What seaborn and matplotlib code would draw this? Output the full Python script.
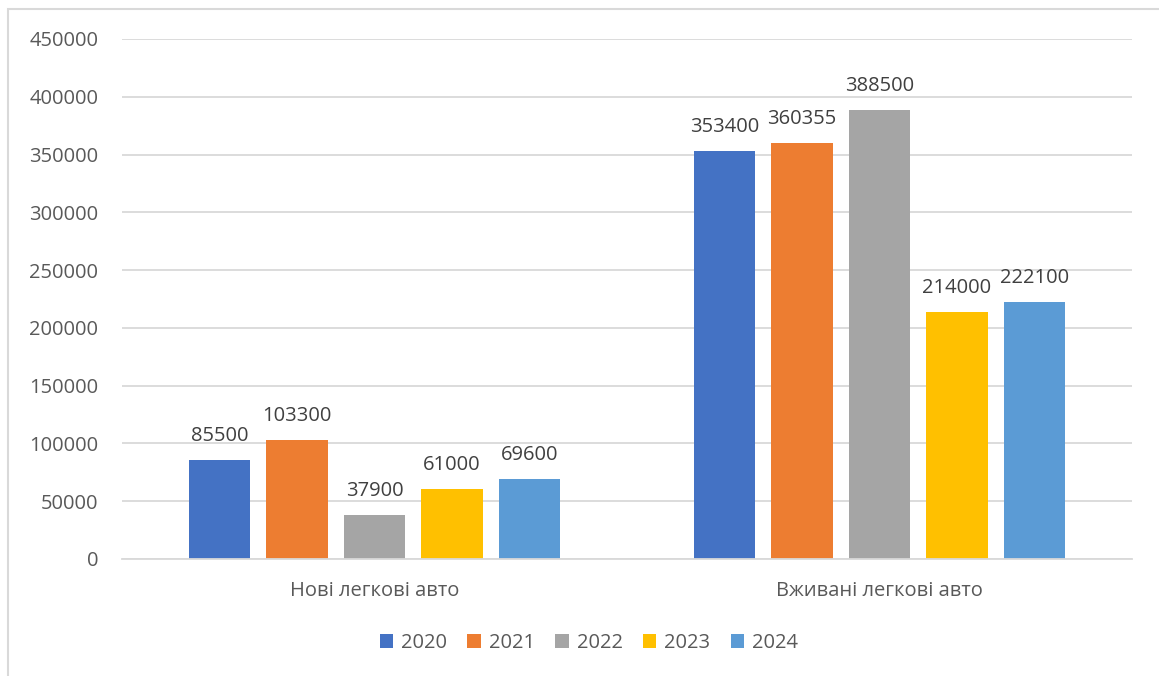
import matplotlib
matplotlib.use("Agg")
import matplotlib.pyplot as plt
import seaborn as sns
import pandas as pd
from matplotlib.patches import Rectangle

categories = ["Нові легкові авто", "Вживані легкові авто"]
years = ["2020", "2021", "2022", "2023", "2024"]
values_new = [85500, 103300, 37900, 61000, 69600]
values_used = [353400, 360355, 388500, 214000, 222100]
colors = ["#4472C4", "#ED7D31", "#A5A5A5", "#FFC000", "#5B9BD5"]
yticks = [0, 50000, 100000, 150000, 200000, 250000, 300000, 350000, 400000, 450000]

rows = []
for cat, vals in zip(categories, [values_new, values_used]):
    for y, v in zip(years, vals):
        rows.append({"category": cat, "year": y, "value": v})
df = pd.DataFrame(rows)

sns.set_theme(style="white")
plt.rcParams["font.family"] = ["Open Sans", "DejaVu Sans"]

txt = "#595959"
grid = "#D9D9D9"
fs = 14.5

fig = plt.figure(figsize=(11.59, 6.76), dpi=100)
ax = fig.add_axes([122/1159, 1-559/676, 1010/1159, 520/676])

sns.barplot(data=df, x="category", y="value", hue="year", hue_order=years,
            palette=colors, saturation=1, width=0.767, gap=0.21,
            linewidth=0, ax=ax, legend=True)

for c in ax.containers:
    ax.bar_label(c, labels=[f"{int(v)}" for v in c.datavalues],
                 padding=10, fontsize=fs, color="#404040")

ax.set_ylim(0, 450000)
ax.set_xlim(-0.5, 1.5)
ax.set_yticks(yticks)
ax.set_yticklabels([str(t) for t in yticks])
ax.yaxis.grid(True, color=grid, linewidth=1.3)
ax.set_axisbelow(True)
for s in ["top", "right", "left"]:
    ax.spines[s].set_visible(False)
ax.spines["bottom"].set_color(grid)
ax.spines["bottom"].set_linewidth(1.3)
ax.tick_params(axis="y", length=0, pad=17, labelsize=fs, labelcolor=txt)
ax.tick_params(axis="x", length=0, pad=16, labelsize=fs, labelcolor=txt)
ax.set_xlabel("")
ax.set_ylabel("")

handles, labels = ax.get_legend_handles_labels()
ax.get_legend().remove()
fig.legend(handles, labels, loc="center", bbox_to_anchor=(589/1159, 1-643/676),
           ncol=5, frameon=False, fontsize=fs, labelcolor=txt,
           handlelength=0.67, handleheight=0.67, handletextpad=0.4,
           columnspacing=1.0)

fig.patches.append(Rectangle((8/1159, -0.1), 1.2, 1-9/676+0.1,
                             transform=fig.transFigure, fill=False,
                             edgecolor=grid, linewidth=1.5))

fig.savefig("out.png", dpi=100)
